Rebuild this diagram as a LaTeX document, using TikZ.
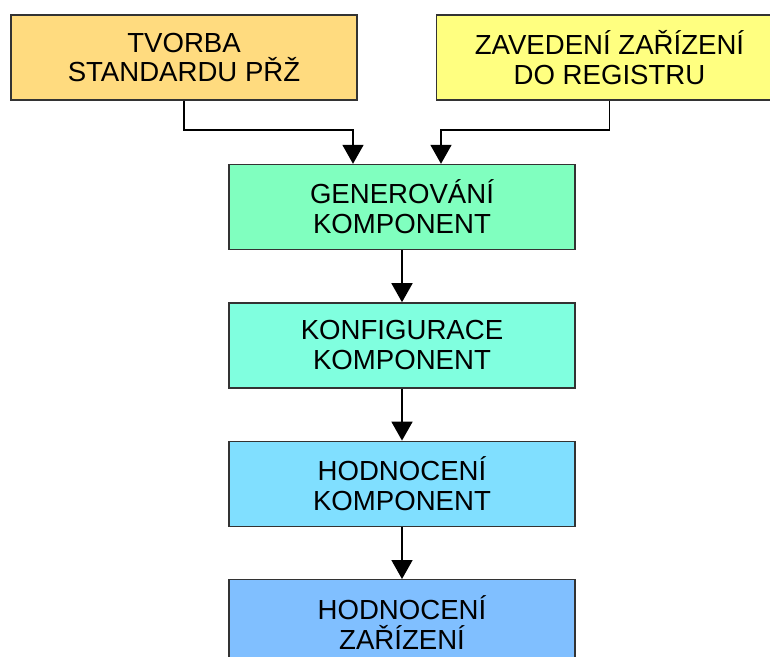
\documentclass[tikz,border=0pt]{standalone}
\usepackage{fontspec}
\setmainfont{Liberation Sans}
\usepackage{tikz}
\usetikzlibrary{arrows.meta,positioning}

\definecolor{boxorange}{RGB}{255,219,127}
\definecolor{boxyellow}{RGB}{255,255,128}
\definecolor{boxmint}{RGB}{128,255,191}
\definecolor{boxaqua}{RGB}{128,255,223}
\definecolor{boxsky}{RGB}{128,223,255}
\definecolor{boxblue}{RGB}{128,191,255}

\begin{document}
\begin{tikzpicture}[
    node distance=1.04cm,
    proc/.style={rectangle, draw=black!80, line width=0.8pt, minimum width=6.92cm, minimum height=1.7cm, align=center, font=\fontsize{15.7}{17}\selectfont},
    arrow/.style={-{Triangle[width=0.42cm, length=0.38cm]}, line width=1pt}
]
    \path[use as bounding box, clip] (0,0) rectangle (15.4,-13.14);

    \node (tvorba) [proc, fill=boxorange] at (3.68,-1.15) {TVORBA\\STANDARDU PŘŽ};
    \node (zavedeni) [proc, fill=boxyellow] at (12.19,-1.15) {ZAVEDENÍ ZAŘÍZENÍ\\DO REGISTRU};
    \node (gen) [proc, fill=boxmint] at (8.04,-4.14) {GENEROVÁNÍ\\KOMPONENT};
    \node (konf) [proc, fill=boxaqua, below=of gen] {KONFIGURACE\\KOMPONENT};
    \node (hodkomp) [proc, fill=boxsky, below=of konf] {HODNOCENÍ\\KOMPONENT};
    \node (hodzar) [proc, fill=boxblue, below=of hodkomp] {HODNOCENÍ\\ZAŘÍZENÍ};

    \draw [arrow] (tvorba.south) -- ++(0,-0.58) -| ([xshift=-0.98cm]gen.north);
    \draw [arrow] (zavedeni.south) -- ++(0,-0.58) -| ([xshift=0.78cm]gen.north);
    \draw [arrow] (gen) -- (konf);
    \draw [arrow] (konf) -- (hodkomp);
    \draw [arrow] (hodkomp) -- (hodzar);
\end{tikzpicture}
\end{document}
